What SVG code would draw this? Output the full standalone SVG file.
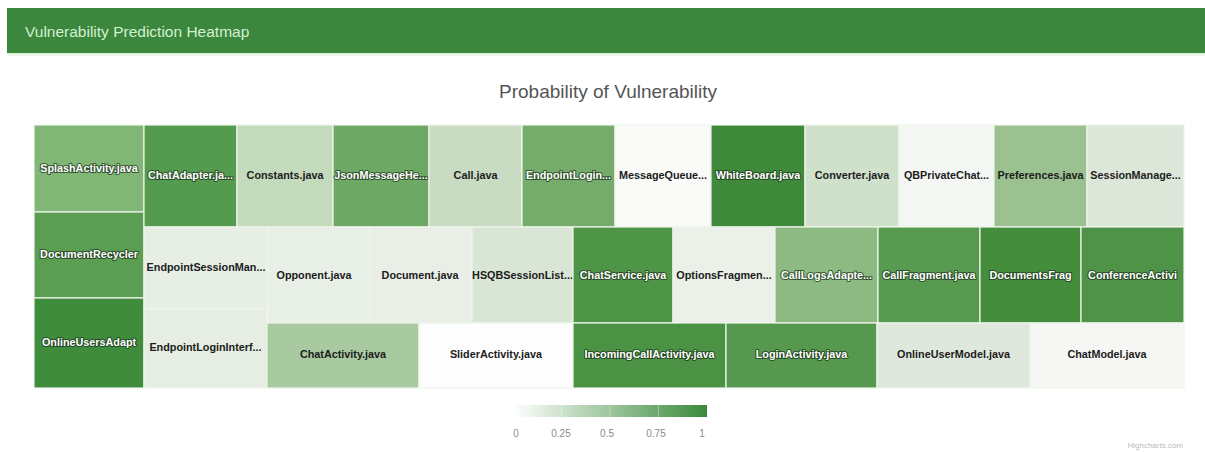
<svg xmlns="http://www.w3.org/2000/svg" width="1205" height="452" viewBox="0 0 1205 452">
  <style>
    .cell { stroke: #eef5ec; stroke-width: 1.2; }
    .lbl { font-family: "Liberation Sans", Arial, sans-serif; font-size: 10.8px; font-weight: bold; text-anchor: middle; fill: #1c1c1c; }
    .lbl-w { font-family: "Liberation Sans", Arial, sans-serif; font-size: 10.8px; font-weight: bold; text-anchor: middle; fill: #ffffff; stroke: #1e3a1c; stroke-width: 2.2px; stroke-opacity: 0.75; paint-order: stroke; stroke-linejoin: round; }
    .tick { font-family: "Liberation Sans", Arial, sans-serif; font-size: 10px; fill: #8a8a8a; text-anchor: middle; }
  </style>
  <defs>
    <linearGradient id="scale" x1="0" y1="0" x2="1" y2="0">
      <stop offset="0" stop-color="#ffffff"/>
      <stop offset="1" stop-color="#3a8a3b"/>
    </linearGradient>
    <linearGradient id="headShade" x1="0" y1="0" x2="0" y2="1">
      <stop offset="0" stop-color="#d8efd5"/>
      <stop offset="1" stop-color="#ffffff"/>
    </linearGradient>
  </defs>

  <rect width="1205" height="452" fill="#ffffff"/>

  <!-- header bar -->
  <g id="header">
    <rect x="7" y="8" width="1198" height="45" fill="#3a873d"/>
    <rect x="7" y="53" width="1198" height="4" fill="url(#headShade)"/>
    <text x="25" y="37" font-family="Liberation Sans, Arial, sans-serif" font-size="15.5" fill="#d4f0cf">Vulnerability Prediction Heatmap</text>
  </g>

  <!-- chart title -->
  <text id="chart-title" x="608" y="98" font-family="Liberation Sans, Arial, sans-serif" font-size="19" fill="#555555" text-anchor="middle">Probability of Vulnerability</text>

  <!-- treemap cells -->
  <g id="treemap">
    <g id="splash-activity"><rect class="cell" x="34" y="125" width="110" height="87" fill="#80b676"/><text class="lbl-w" x="89" y="172">SplashActivity.java</text></g>
    <g id="documents-recycler"><rect class="cell" x="34" y="212" width="110" height="86" fill="#5b9d53"/><text class="lbl-w" x="89" y="258">DocumentRecycler</text></g>
    <g id="online-users-adapter"><rect class="cell" x="34" y="298" width="110" height="90" fill="#3f8c3c"/><text class="lbl-w" x="89" y="346">OnlineUsersAdapt</text></g>

    <g id="chat-adapter"><rect class="cell" x="144" y="125" width="93" height="102" fill="#559b4f"/><text class="lbl-w" x="190.5" y="179">ChatAdapter.ja...</text></g>
    <g id="constants"><rect class="cell" x="237" y="125" width="96" height="102" fill="#c3dabd"/><text class="lbl" x="285" y="179">Constants.java</text></g>
    <g id="json-message"><rect class="cell" x="333" y="125" width="96" height="102" fill="#6ea865"/><text class="lbl-w" x="381" y="179">JsonMessageHe...</text></g>
    <g id="call"><rect class="cell" x="429" y="125" width="93" height="102" fill="#c9dcc3"/><text class="lbl" x="475.5" y="179">Call.java</text></g>
    <g id="endpoint-login"><rect class="cell" x="522" y="125" width="93" height="102" fill="#75ab6b"/><text class="lbl-w" x="568.5" y="179">EndpointLogin...</text></g>
    <g id="message-queue"><rect class="cell" x="615" y="125" width="96" height="102" fill="#fafbf9"/><text class="lbl" x="663" y="179">MessageQueue...</text></g>
    <g id="white-board"><rect class="cell" x="711" y="125" width="94" height="102" fill="#3e8a3a"/><text class="lbl-w" x="758" y="179">WhiteBoard.java</text></g>
    <g id="converter"><rect class="cell" x="805" y="125" width="94" height="102" fill="#cfe1ca"/><text class="lbl" x="852" y="179">Converter.java</text></g>
    <g id="qb-private-chat"><rect class="cell" x="899" y="125" width="95" height="102" fill="#f5f7f4"/><text class="lbl" x="946.5" y="179">QBPrivateChat...</text></g>
    <g id="preferences"><rect class="cell" x="994" y="125" width="93" height="102" fill="#9bc190"/><text class="lbl" x="1040.5" y="179">Preferences.java</text></g>
    <g id="session-manager"><rect class="cell" x="1087" y="125" width="97" height="102" fill="#dde7d9"/><text class="lbl" x="1135.5" y="179">SessionManage...</text></g>

    <g id="endpoint-session-manager"><rect class="cell" x="144" y="227" width="124" height="82" fill="#e7eee4"/><text class="lbl" x="206" y="271">EndpointSessionMan...</text></g>
    <g id="endpoint-login-interface"><rect class="cell" x="144" y="309" width="123" height="79" fill="#e6ede3"/><text class="lbl" x="205.5" y="351">EndpointLoginInterf...</text></g>
    <g id="opponent"><rect class="cell" x="268" y="227" width="102" height="96" fill="#e8efe6"/><text class="lbl" x="314" y="279">Opponent.java</text></g>
    <g id="document"><rect class="cell" x="370" y="227" width="102" height="96" fill="#e9efe6"/><text class="lbl" x="420" y="279">Document.java</text></g>
    <g id="hsqb-session-list"><rect class="cell" x="472" y="227" width="101" height="96" fill="#d9e5d5"/><text class="lbl" x="522.5" y="279">HSQBSessionList...</text></g>
    <g id="chat-service"><rect class="cell" x="573" y="227" width="100" height="96" fill="#4f9548"/><text class="lbl-w" x="623" y="279">ChatService.java</text></g>
    <g id="options-fragment"><rect class="cell" x="673" y="227" width="102" height="96" fill="#ebf1e9"/><text class="lbl" x="724" y="279">OptionsFragmen...</text></g>
    <g id="call-logs-adapter"><rect class="cell" x="775" y="227" width="103" height="96" fill="#8cba82"/><text class="lbl-w" x="826.5" y="279">CallLogsAdapte...</text></g>
    <g id="call-fragment"><rect class="cell" x="878" y="227" width="102" height="96" fill="#589a50"/><text class="lbl-w" x="929" y="279">CallFragment.java</text></g>
    <g id="documents-fragment"><rect class="cell" x="980" y="227" width="101" height="96" fill="#438d3d"/><text class="lbl-w" x="1030.5" y="279">DocumentsFrag</text></g>
    <g id="conference-activity"><rect class="cell" x="1081" y="227" width="103" height="96" fill="#4e9347"/><text class="lbl-w" x="1132.5" y="279">ConferenceActivi</text></g>

    <g id="chat-activity"><rect class="cell" x="267" y="323" width="152" height="65" fill="#a9c9a0"/><text class="lbl" x="343" y="358">ChatActivity.java</text></g>
    <g id="slider-activity"><rect class="cell" x="419" y="323" width="154" height="65" fill="#fdfdfd"/><text class="lbl" x="496" y="358">SliderActivity.java</text></g>
    <g id="incoming-call-activity"><rect class="cell" x="573" y="323" width="153" height="65" fill="#4b9245"/><text class="lbl-w" x="649.5" y="358">IncomingCallActivity.java</text></g>
    <g id="login-activity"><rect class="cell" x="726" y="323" width="151" height="65" fill="#56984e"/><text class="lbl-w" x="801.5" y="358">LoginActivity.java</text></g>
    <g id="online-user-model"><rect class="cell" x="877" y="323" width="153" height="65" fill="#dfe8dc"/><text class="lbl" x="953.5" y="358">OnlineUserModel.java</text></g>
    <g id="chat-model"><rect class="cell" x="1030" y="323" width="154" height="65" fill="#f6f7f5"/><text class="lbl" x="1107" y="358">ChatModel.java</text></g>
  </g>

  <!-- colour axis legend -->
  <g id="legend">
    <rect x="513" y="405" width="194" height="12" fill="url(#scale)"/>
    <g stroke="#ffffff" stroke-opacity="0.35" stroke-width="1">
      <line x1="561.5" y1="405" x2="561.5" y2="417"/>
      <line x1="610" y1="405" x2="610" y2="417"/>
      <line x1="658.5" y1="405" x2="658.5" y2="417"/>
    </g>
    <text class="tick" x="516" y="437">0</text>
    <text class="tick" x="561" y="437">0.25</text>
    <text class="tick" x="607" y="437">0.5</text>
    <text class="tick" x="656" y="437">0.75</text>
    <text class="tick" x="702" y="437">1</text>
  </g>

  <text id="credits" x="1183" y="448" font-family="Liberation Sans, Arial, sans-serif" font-size="8" fill="#bbbbbb" text-anchor="end">Highcharts.com</text>
</svg>
